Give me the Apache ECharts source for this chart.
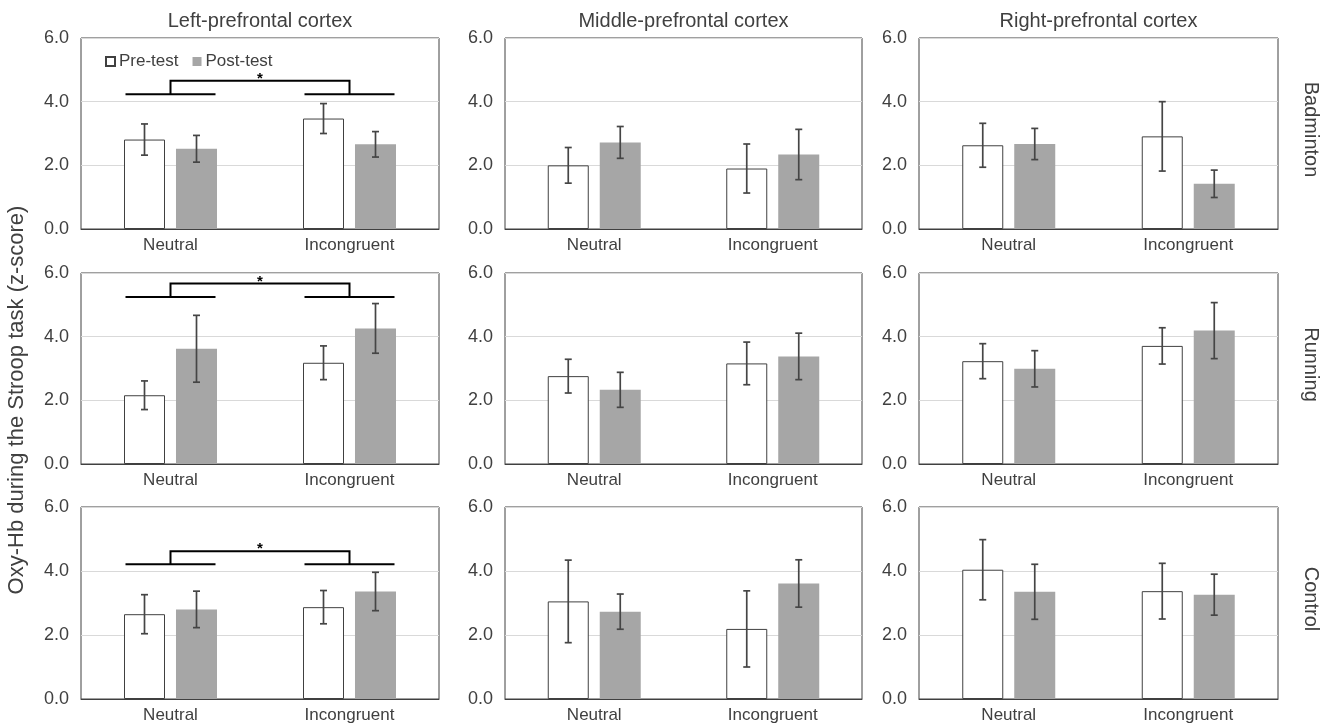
<!DOCTYPE html>
<html><head><meta charset="utf-8">
<script src="https://cdn.jsdelivr.net/npm/echarts/dist/echarts.min.js"></script>
<style>html,body{margin:0;padding:0;background:#fff}#chart{width:1336px;height:725px}</style>
</head><body><div id="chart"></div>
<script>
// ---- data ----
const categories = ['Neutral', 'Incongruent'];
const regions = ['Left-prefrontal cortex', 'Middle-prefrontal cortex', 'Right-prefrontal cortex'];
const groups = ['Badminton', 'Running', 'Control'];
const seriesNames = ['Pre-test', 'Post-test'];
const yAxisTitle = 'Oxy-Hb during the Stroop task (z-score)';
// per region: [Neutral, Incongruent]
const badmintonPre    = [[2.81, 3.47], [2.00, 1.90], [2.63, 2.91]];
const badmintonPost   = [[2.52, 2.66], [2.72, 2.34], [2.67, 1.42]];
const badmintonPreSE  = [[0.49, 0.47], [0.56, 0.77], [0.69, 1.09]];
const badmintonPostSE = [[0.42, 0.40], [0.50, 0.79], [0.49, 0.43]];
const runningPre      = [[2.16, 3.18], [2.76, 3.16], [3.23, 3.71]];
const runningPost     = [[3.62, 4.26], [2.33, 3.38], [2.99, 4.19]];
const runningPreSE    = [[0.45, 0.53], [0.53, 0.67], [0.55, 0.57]];
const runningPostSE   = [[1.05, 0.78], [0.55, 0.73], [0.57, 0.88]];
const controlPre      = [[2.65, 2.87], [3.05, 2.19], [4.04, 3.37]];
const controlPost     = [[2.80, 3.36], [2.73, 3.61], [3.35, 3.26]];
const controlPreSE    = [[0.61, 0.52], [1.29, 1.19], [0.94, 0.87]];
const controlPostSE   = [[0.57, 0.60], [0.55, 0.74], [0.86, 0.64]];
// significance brackets (left-prefrontal panels): [low, high] y-levels
const bracketLevels = [[4.23, 4.66], [5.25, 5.67], [4.21, 4.62]];
const yMin = 0, yMax = 6, yInterval = 2;

// ---- layout ----
const FONT = '"Liberation Sans", Arial, Helvetica, sans-serif';
const gridLeft = [81, 505, 919];
const gridWidth = [358, 357, 359];
const gridTop = [38, 273, 507];
const gridHeight = [191, 191, 192];
const BAR_W = 41, BAR_GAP = 11;
const OFF = (BAR_W + BAR_GAP) / 2;

const rowsPre = [badmintonPre, runningPre, controlPre];
const rowsPost = [badmintonPost, runningPost, controlPost];
const rowsPreSE = [badmintonPreSE, runningPreSE, controlPreSE];
const rowsPostSE = [badmintonPostSE, runningPostSE, controlPostSE];

const grids = [], xAxes = [], yAxes = [], series = [];

function errRender(offset) {
  return function (params, api) {
    const cx = api.coord([api.value(0), 0])[0] + offset;
    const yl = api.coord([api.value(0), api.value(1)])[1];
    const yh = api.coord([api.value(0), api.value(2)])[1];
    const st = { stroke: '#454545', lineWidth: 1.7 };
    const cap = 3.5;
    return { type: 'group', children: [
      { type: 'line', shape: { x1: cx, y1: yl, x2: cx, y2: yh }, style: st },
      { type: 'line', shape: { x1: cx - cap, y1: yl, x2: cx + cap, y2: yl }, style: st },
      { type: 'line', shape: { x1: cx - cap, y1: yh, x2: cx + cap, y2: yh }, style: st }
    ]};
  };
}

function bracketRender(params, api) {
  const low = api.value(1), high = api.value(2);
  const p0 = api.coord([0, low]), p1 = api.coord([1, low]);
  const yh = api.coord([0, high])[1];
  const half = 45;
  const st = { stroke: '#000', lineWidth: 2, fill: null };
  return { type: 'group', children: [
    { type: 'line', shape: { x1: p0[0] - half, y1: p0[1], x2: p0[0] + half, y2: p0[1] }, style: st },
    { type: 'polyline', shape: { points: [[p0[0], p0[1]], [p0[0], yh], [p1[0], yh], [p1[0], p1[1]]] }, style: st },
    { type: 'line', shape: { x1: p1[0] - half, y1: p1[1], x2: p1[0] + half, y2: p1[1] }, style: st },
    { type: 'text', style: { text: '*', x: (p0[0] + p1[0]) / 2, y: yh - 2, align: 'center', verticalAlign: 'middle',
      font: 'bold 15px ' + FONT, fill: '#000' } }
  ]};
}

for (let r = 0; r < 3; r++) {
  for (let c = 0; c < 3; c++) {
    const i = r * 3 + c;
    grids.push({ left: gridLeft[c], top: gridTop[r], width: gridWidth[c], height: gridHeight[r],
      show: true, borderColor: '#404040', borderWidth: 1, backgroundColor: 'transparent', outerBoundsMode: 'none' });
    xAxes.push({ type: 'category', gridIndex: i, data: categories,
      axisLine: { show: true, lineStyle: { color: '#404040', width: 1 } },
      axisTick: { show: false },
      axisLabel: { color: '#404040', fontSize: 17, fontFamily: FONT, margin: 8 } });
    yAxes.push({ type: 'value', gridIndex: i, min: yMin, max: yMax, interval: yInterval,
      axisLine: { show: false }, axisTick: { show: false },
      splitLine: { show: true, lineStyle: { color: '#d9d9d9', width: 1 } },
      axisLabel: { color: '#404040', fontSize: 18, fontFamily: FONT, margin: 12, formatter: v => v.toFixed(1) } });
    const pre = rowsPre[r][c], post = rowsPost[r][c];
    const preSE = rowsPreSE[r][c], postSE = rowsPostSE[r][c];
    series.push({ name: seriesNames[0], type: 'bar', xAxisIndex: i, yAxisIndex: i, data: pre,
      barWidth: BAR_W, barGap: (BAR_GAP / BAR_W * 100).toFixed(1) + '%',
      itemStyle: { color: '#ffffff', borderColor: '#404040', borderWidth: 1 }, emphasis: { disabled: true } });
    series.push({ name: seriesNames[1], type: 'bar', xAxisIndex: i, yAxisIndex: i, data: post,
      barWidth: BAR_W, barGap: (BAR_GAP / BAR_W * 100).toFixed(1) + '%',
      itemStyle: { color: '#a6a6a6' }, emphasis: { disabled: true } });
    series.push({ type: 'custom', xAxisIndex: i, yAxisIndex: i, z: 5, silent: true,
      data: pre.map((v, k) => [k, v - preSE[k], v + preSE[k]]),
      encode: { x: 0, y: [1, 2] }, renderItem: errRender(-OFF) });
    series.push({ type: 'custom', xAxisIndex: i, yAxisIndex: i, z: 5, silent: true,
      data: post.map((v, k) => [k, v - postSE[k], v + postSE[k]]),
      encode: { x: 0, y: [1, 2] }, renderItem: errRender(OFF) });
    if (c === 0) {
      series.push({ type: 'custom', xAxisIndex: i, yAxisIndex: i, z: 6, silent: true,
        data: [[0, bracketLevels[r][0], bracketLevels[r][1]]],
        encode: { x: 0, y: [1, 2] }, renderItem: bracketRender });
    }
  }
}

const graphics = [];
regions.forEach((t, c) => graphics.push({ type: 'text', x: gridLeft[c] + gridWidth[c] / 2, y: 21,
  style: { text: t, align: 'center', verticalAlign: 'middle', font: '20px ' + FONT, fill: '#404040' } }));
groups.forEach((t, r) => graphics.push({ type: 'text', x: 1311, y: gridTop[r] + gridHeight[r] / 2 - 4,
  rotation: -Math.PI / 2,
  style: { text: t, align: 'center', verticalAlign: 'middle', font: '20px ' + FONT, fill: '#404040' } }));
graphics.push({ type: 'text', x: 17, y: 400, rotation: Math.PI / 2,
  style: { text: yAxisTitle, align: 'center', verticalAlign: 'middle', font: '22px ' + FONT, fill: '#404040' } });

const chart = echarts.init(document.getElementById('chart'), null, { renderer: 'canvas' });
chart.setOption({
  animation: false,
  textStyle: { fontFamily: FONT },
  legend: { data: seriesNames, left: 100, top: 48, itemWidth: 9, itemHeight: 9, itemGap: 14,
    icon: 'rect', textStyle: { fontSize: 17, color: '#404040', fontFamily: FONT, padding: [0, 0, 0, -1] }, selectedMode: false },
  grid: grids, xAxis: xAxes, yAxis: yAxes, series: series, graphic: graphics
});
</script></body></html>
